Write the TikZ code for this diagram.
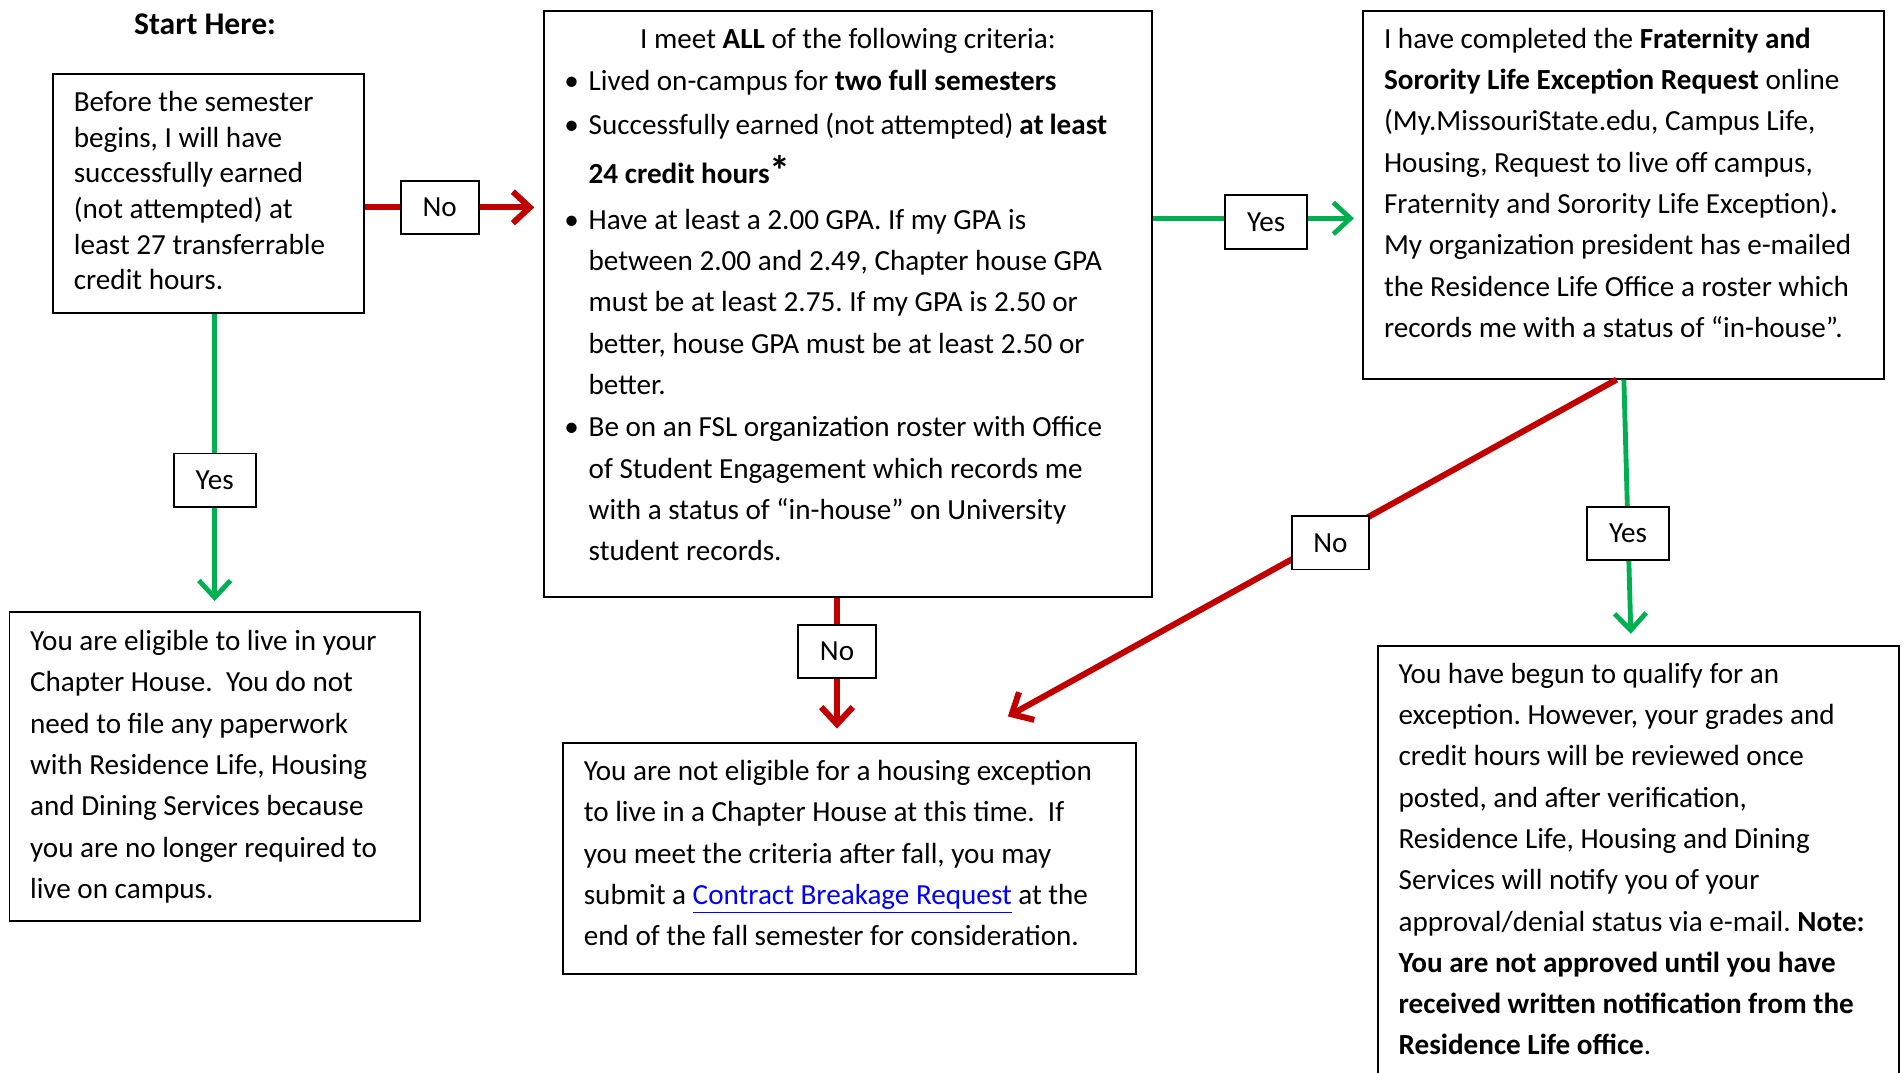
\documentclass[tikz,border=0pt]{standalone}
\usepackage{fontspec}
\setmainfont{Carlito}
\usepackage{xcolor}
\usetikzlibrary{arrows.meta, positioning}
\frenchspacing

\definecolor{fslred}{HTML}{C00000}
\definecolor{fslgreen}{HTML}{00B050}

% box body: total height, width, first baseline, text
\newcommand{\boxtext}[4]{\parbox[t][#1][t]{#2}{\raggedright\rule{0pt}{#3}#4}}
\newcommand{\blt}{\leavevmode\llap{\textbullet\hspace{4pt}}}

\tikzset{
  panel/.style={draw, line width=0.8pt, anchor=north west, inner xsep=8.5pt, inner ysep=0pt,
    font=\fontsize{12pt}{17pt}\selectfont},
  tag/.style={draw=black, fill=white, text=black, line width=0.8pt, inner xsep=9pt, inner ysep=0pt,
    minimum height=22pt, font=\fontsize{12pt}{14pt}\selectfont},
  yes/.style={draw=fslgreen, line width=2pt, -{Straight Barb[length=7pt,width=13pt]}},
  no/.style={draw=fslred, line width=2.5pt, -{Straight Barb[length=7pt,width=13pt]}},
}

\begin{document}
\begin{tikzpicture}[x=0.5pt, y=-0.5pt]
        \useasboundingbox (0,0) rectangle (1568,883);

        \node[panel, font=\fontsize{12pt}{14.7pt}\selectfont] (start) at (43,60)
            {\boxtext{98.5pt}{111pt}{15.5pt}{Before the semester\\ begins, I will have\\ successfully earned\\
             (not attempted) at\\ least 27 transferrable\\ credit hours.}};
        \node[above=12pt of start, xshift=-1.5pt, font=\fontsize{13pt}{15pt}\selectfont\bfseries] (here) {Start Here:};

        \node[panel, inner xsep=18.5pt] (crit) at (447,8)
            {\boxtext{241.5pt}{213.5pt}{15.5pt}{\makebox[\linewidth]{I meet \textbf{ALL} of the following criteria:}\\[0.5pt]
             \blt Lived on-campus for \textbf{two full semesters}\\[1pt]
             \blt Successfully earned (not attempted) \textbf{at least}\\[3pt]
             \textbf{24 credit hours\raisebox{-1pt}{\LARGE *}}\\[2pt]
             \blt Have at least a 2.00 GPA. If my GPA is\\
             between 2.00 and 2.49, Chapter house GPA\\
             must be at least 2.75. If my GPA is 2.50 or\\
             better, house GPA must be at least 2.50 or\\
             better.\\[0.5pt]
             \blt Be on an FSL organization roster with Office\\
             of Student Engagement which records me\\
             with a status of ``in-house'' on University\\
             student records.}};

        \node[panel] (req) at (1122,8)
            {\boxtext{151.5pt}{197.5pt}{15.5pt}{I have completed the \textbf{Fraternity and}\\
             \textbf{Sorority Life Exception Request} online\\
             (My.MissouriState.edu, Campus Life,\\
             Housing, Request to live off campus,\\
             Fraternity and Sorority Life Exception)\textbf{.}\\
             My organization president has e-mailed\\
             the Residence Life Office a roster which\\
             records me with a status of ``in-house''.}};

        \node[panel] (ok) at (7,503)
            {\boxtext{127.5pt}{152pt}{16pt}{You are eligible to live in your\\
             Chapter House.~ You do not\\ need to file any paperwork\\
             with Residence Life, Housing\\ and Dining Services because\\
             you are no longer required to\\ live on campus.}};

        \node[panel] (notok) at (463,611)
            {\boxtext{95pt}{219pt}{15.5pt}{You are not eligible for a housing exception\\
             to live in a Chapter House at this time.~ If\\
             you meet the criteria after fall, you may\\
             submit a {\color{blue}\underline{Contract Breakage Request}} at the\\
             end of the fall semester for consideration.}};

        \node[panel] (wait) at (1134,531)
            {\boxtext{190pt}{197.5pt}{15.5pt}{You have begun to qualify for an\\
             exception. However, your grades and\\
             credit hours will be reviewed once\\
             posted, and after verification,\\
             Residence Life, Housing and Dining\\
             Services will notify you of your\\
             approval/denial status via e-mail. \textbf{Note:}\\
             \textbf{You are not approved until you have}\\
             \textbf{received written notification from the}\\
             \textbf{Residence Life office}.}};

        \coordinate (noab) at ([yshift=-5.75pt]start.east);
        \coordinate (yesbc) at ([yshift=-9.75pt]req.west);
        \coordinate (nobe) at ([xshift=-4.5pt]crit.south);
        \coordinate (noce) at (830,590);

        \draw
            (noab) edge[no, shorten >=3.5pt] node[tag, pos=0.42] {No} (noab -| crit.west)
            (start.south -| ok.north) edge[yes, shorten >=4pt] node[tag, pos=0.56] {Yes} (ok.north)
            (yesbc -| crit.east) edge[yes, shorten >=3.5pt] node[tag, pos=0.54, yshift=-1.5pt] {Yes} (yesbc)
            (nobe) edge[no, shorten >=5.5pt] node[tag, pos=0.37] {No} (nobe |- notok.north)
            ([xshift=-3pt]req.south) edge[no] node[tag, pos=0.47, yshift=-2pt] {No} (noce)
            (req.south) edge[yes, shorten >=4.5pt] node[tag, pos=0.58] {Yes} ([xshift=-3pt]wait.north)
            ;
\end{tikzpicture}
\end{document}
